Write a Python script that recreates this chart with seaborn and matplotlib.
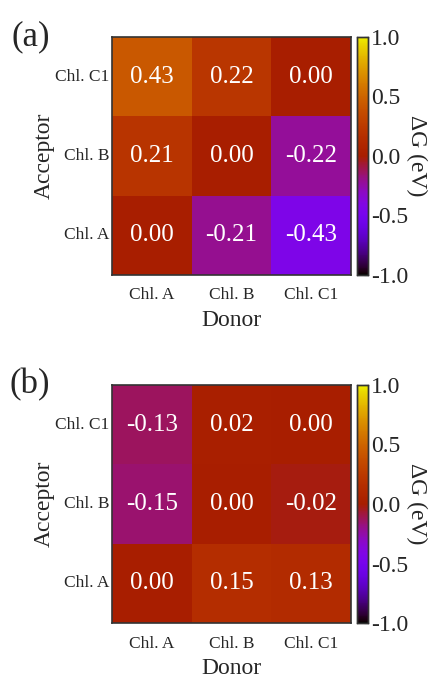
import matplotlib
matplotlib.use('Agg')
import matplotlib.pyplot as plt
import seaborn as sns
import pandas as pd
import numpy as np
from matplotlib.colors import ListedColormap

sns.set_style('white')
plt.rcParams['font.family'] = ['Liberation Serif', 'DejaVu Serif']

donors = ['Chl. A', 'Chl. B', 'Chl. C1']
acceptors = ['Chl. C1', 'Chl. B', 'Chl. A']   # top to bottom

dg_a = [[0.43, 0.22, 0.00],
        [0.21, 0.00, -0.22],
        [0.00, -0.21, -0.43]]
dg_b = [[-0.13, 0.02, 0.00],
        [-0.15, 0.00, -0.02],
        [0.00, 0.15, 0.13]]

panels = [('(a)', dg_a), ('(b)', dg_b)]
bottoms = [0.5968, 0.0865]

# gnuplot palette, a touch darker like the original
base = plt.get_cmap('gnuplot')(np.linspace(0, 1, 256))
base[:, :3] *= 0.93
cmap = ListedColormap(base)

fig = plt.figure(figsize=(4.34, 6.82), dpi=100)

for (tag, vals), bot in zip(panels, bottoms):
    df = pd.DataFrame(vals, index=acceptors, columns=donors)
    ax = fig.add_axes([0.258, bot, 0.551, 0.349])
    cax = fig.add_axes([0.8226, bot, 0.0253, 0.349])
    sns.heatmap(df, ax=ax, cbar_ax=cax, cmap=cmap, vmin=-1, vmax=1,
                annot=True, fmt='.2f',
                annot_kws={'size': 18, 'color': 'white'})
    for sp in ax.spines.values():
        sp.set_visible(True)
        sp.set_color('#333333')
        sp.set_linewidth(1.2)
    ax.tick_params(axis='y', length=0, labelsize=12.5, pad=2)
    ax.tick_params(axis='x', length=0, labelsize=12.5, pad=9)
    ax.set_yticklabels(acceptors, rotation=0)
    ax.set_xticklabels(donors, rotation=0)
    ax.set_xlabel('Donor', fontsize=17, labelpad=5)
    ax.set_ylabel('Acceptor', fontsize=17, labelpad=0)
    ax.text(-0.26, 1.0, tag, transform=ax.transAxes, fontsize=25,
            ha='right', va='center')

    cax.set_yticks([-1.0, -0.5, 0.0, 0.5, 1.0])
    cax.set_yticklabels(['-1.0', '-0.5', '0.0', '0.5', '1.0'])
    cax.tick_params(labelsize=17, length=3, width=0.8, direction='in', pad=2)
    for sp in cax.spines.values():
        sp.set_visible(True)
        sp.set_color('#333333')
        sp.set_linewidth(1.0)
    cax.set_ylabel('ΔG (eV)', fontsize=17, rotation=-90, labelpad=14)

fig.savefig('out.png', dpi=100)
